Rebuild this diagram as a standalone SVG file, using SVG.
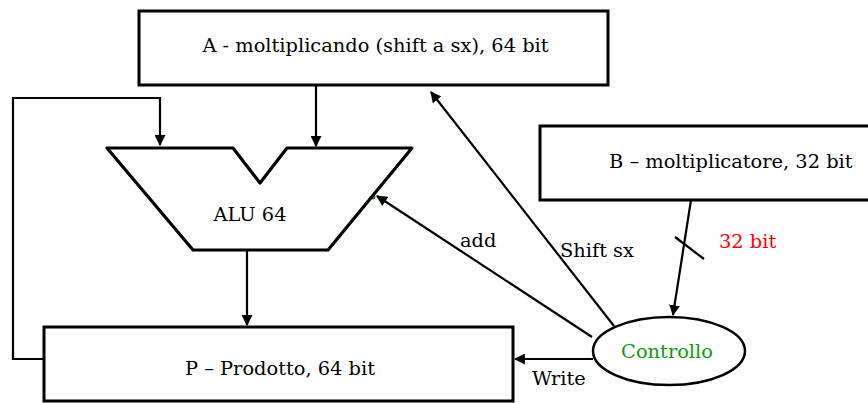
<svg xmlns="http://www.w3.org/2000/svg" width="868" height="403" viewBox="0 0 868 403">
<defs>
<style>
.box{fill:#fff;stroke:#000;stroke-width:3}
.ln{fill:none;stroke:#000;stroke-width:2.2}
text{font-family:'DejaVu Serif','Liberation Serif',serif;font-size:19.4px;fill:#000}
</style>
<marker id="ah" viewBox="0 0 10 10" refX="9" refY="5" markerWidth="5" markerHeight="5" orient="auto" markerUnits="strokeWidth">
<path d="M0,0 L10,5 L0,10 z" fill="#000"/>
</marker>
</defs>
<rect width="868" height="403" fill="#fff"/>
<g id="connectors">
<polyline class="ln" points="44,359 13,359 13,98 160,98 160,145" marker-end="url(#ah)"/>
<line class="ln" x1="316" y1="85" x2="316" y2="146" marker-end="url(#ah)"/>
<line class="ln" x1="247" y1="250" x2="247" y2="325" marker-end="url(#ah)"/>
<line class="ln" x1="593" y1="359" x2="515" y2="359" marker-end="url(#ah)"/>
<line class="ln" x1="691" y1="200" x2="673" y2="315" marker-end="url(#ah)"/>
<line class="ln" x1="675" y1="237" x2="704" y2="259"/>
<line class="ln" x1="614" y1="326" x2="431" y2="92" marker-end="url(#ah)"/>
<line class="ln" x1="592" y1="337" x2="377" y2="196" marker-end="url(#ah)"/>
<circle cx="373" cy="197" r="2.5" fill="#1a8a1a"/>
<text x="532" y="385">Write</text>
<text x="719" y="248" style="fill:#ff0000">32 bit</text>
<text x="560" y="257">Shift sx</text>
<text x="460" y="247">add</text>
</g>
<g id="nodeA">
<rect class="box" x="139" y="11" width="469" height="74"/>
<text x="375.5" y="52" text-anchor="middle">A - moltiplicando (shift a sx), 64 bit</text>
</g>
<g id="nodeB">
<rect class="box" x="540" y="126" width="340" height="74"/>
<text x="609" y="168">B – moltiplicatore, 32 bit</text>
</g>
<g id="nodeALU">
<polygon points="107,148 233,148 260,183 287,148 412,148 328,250 193,250" fill="#fff" stroke="#000" stroke-width="3.2" stroke-linejoin="round"/>
<text x="250" y="221" text-anchor="middle">ALU 64</text>
</g>
<g id="nodeP">
<rect class="box" x="44" y="327" width="469" height="74"/>
<text x="280" y="375" text-anchor="middle">P – Prodotto, 64 bit</text>
</g>
<g id="nodeControllo">
<ellipse cx="669" cy="351" rx="76" ry="34" fill="#fff" stroke="#000" stroke-width="2.5"/>
<text x="667" y="358" text-anchor="middle" style="fill:#119911">Controllo</text>
</g>
</svg>
